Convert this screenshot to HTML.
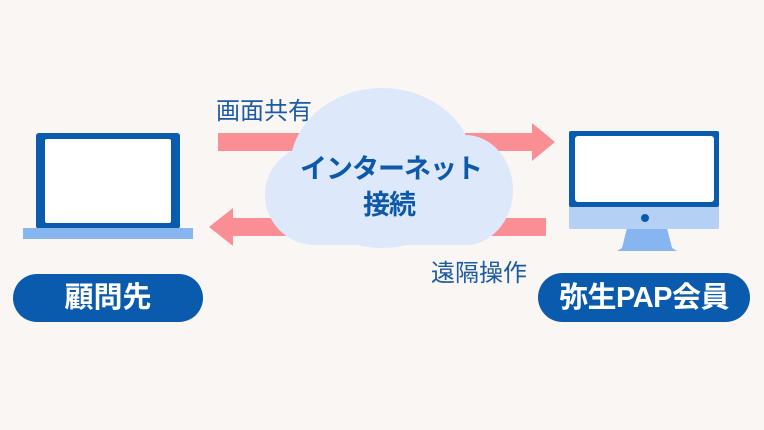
<!DOCTYPE html>
<html><head><meta charset="utf-8"><style>
html,body{margin:0;padding:0;background:#f9f6f3;}
body{width:764px;height:430px;overflow:hidden;position:relative;font-family:"Liberation Sans","Noto Sans CJK JP",sans-serif;}
svg{position:absolute;left:0;top:0;}
.t{position:absolute;white-space:nowrap;}
</style></head><body>
<svg width="764" height="430" viewBox="0 0 764 430">
<rect x="218" y="133" width="320" height="18" fill="#f98f95"/>
<polygon points="532,123 555,142 532,161" fill="#f98f95"/>
<rect x="230" y="218" width="316" height="18" fill="#f98f95"/>
<polygon points="233,208 209,227 233,246" fill="#f98f95"/>
<g fill="#dde8fa">
<ellipse cx="382" cy="168" rx="92" ry="80"/>
<ellipse cx="315" cy="195" rx="50" ry="50"/>
<ellipse cx="465" cy="190" rx="48" ry="55"/>
<rect x="290" y="190" width="200" height="55" rx="25"/>
</g>
<rect x="36" y="133" width="144" height="96" rx="3" fill="#0a5aad"/>
<rect x="45" y="139" width="126" height="84" rx="2" fill="#ffffff"/>
<rect x="23" y="228" width="170" height="11" fill="#86b5ef"/>
<polygon points="627,228 667,228 672,248 677,251 617,251 622,248" fill="#86b5ef"/>
<rect x="569" y="131" width="150" height="98" rx="2" fill="#b4d0f4"/>
<rect x="569" y="131" width="150" height="76" rx="2" fill="#0a5aad"/>
<rect x="575" y="136" width="139" height="66" rx="3" fill="#ffffff"/>
<circle cx="645" cy="218" r="4" fill="#0a5aad"/>
<rect x="13" y="274" width="190" height="48" rx="24" fill="#0a5aad"/>
<rect x="538" y="273" width="212" height="49" rx="24.5" fill="#0a5aad"/>
</svg>
<div class="t" style="left:216px;top:91px;font-size:24px;color:#1b5aa6;">画面共有</div>
<div class="t" style="left:431px;top:253px;font-size:24px;color:#1b5aa6;">遠隔操作</div>
<div class="t" style="left:300px;top:151px;width:178px;text-align:center;font-size:27px;font-weight:bold;color:#0d58a8;line-height:36px;letter-spacing:-1px;">インターネット<br>接続</div>
<div class="t" style="left:13px;top:279px;width:190px;text-align:center;font-size:29px;font-weight:bold;color:#fff;line-height:38px;">顧問先</div>
<div class="t" style="left:538px;top:279px;width:212px;text-align:center;font-size:29px;font-weight:bold;color:#fff;line-height:38px;letter-spacing:-0.5px;">弥生PAP会員</div>
</body></html>
